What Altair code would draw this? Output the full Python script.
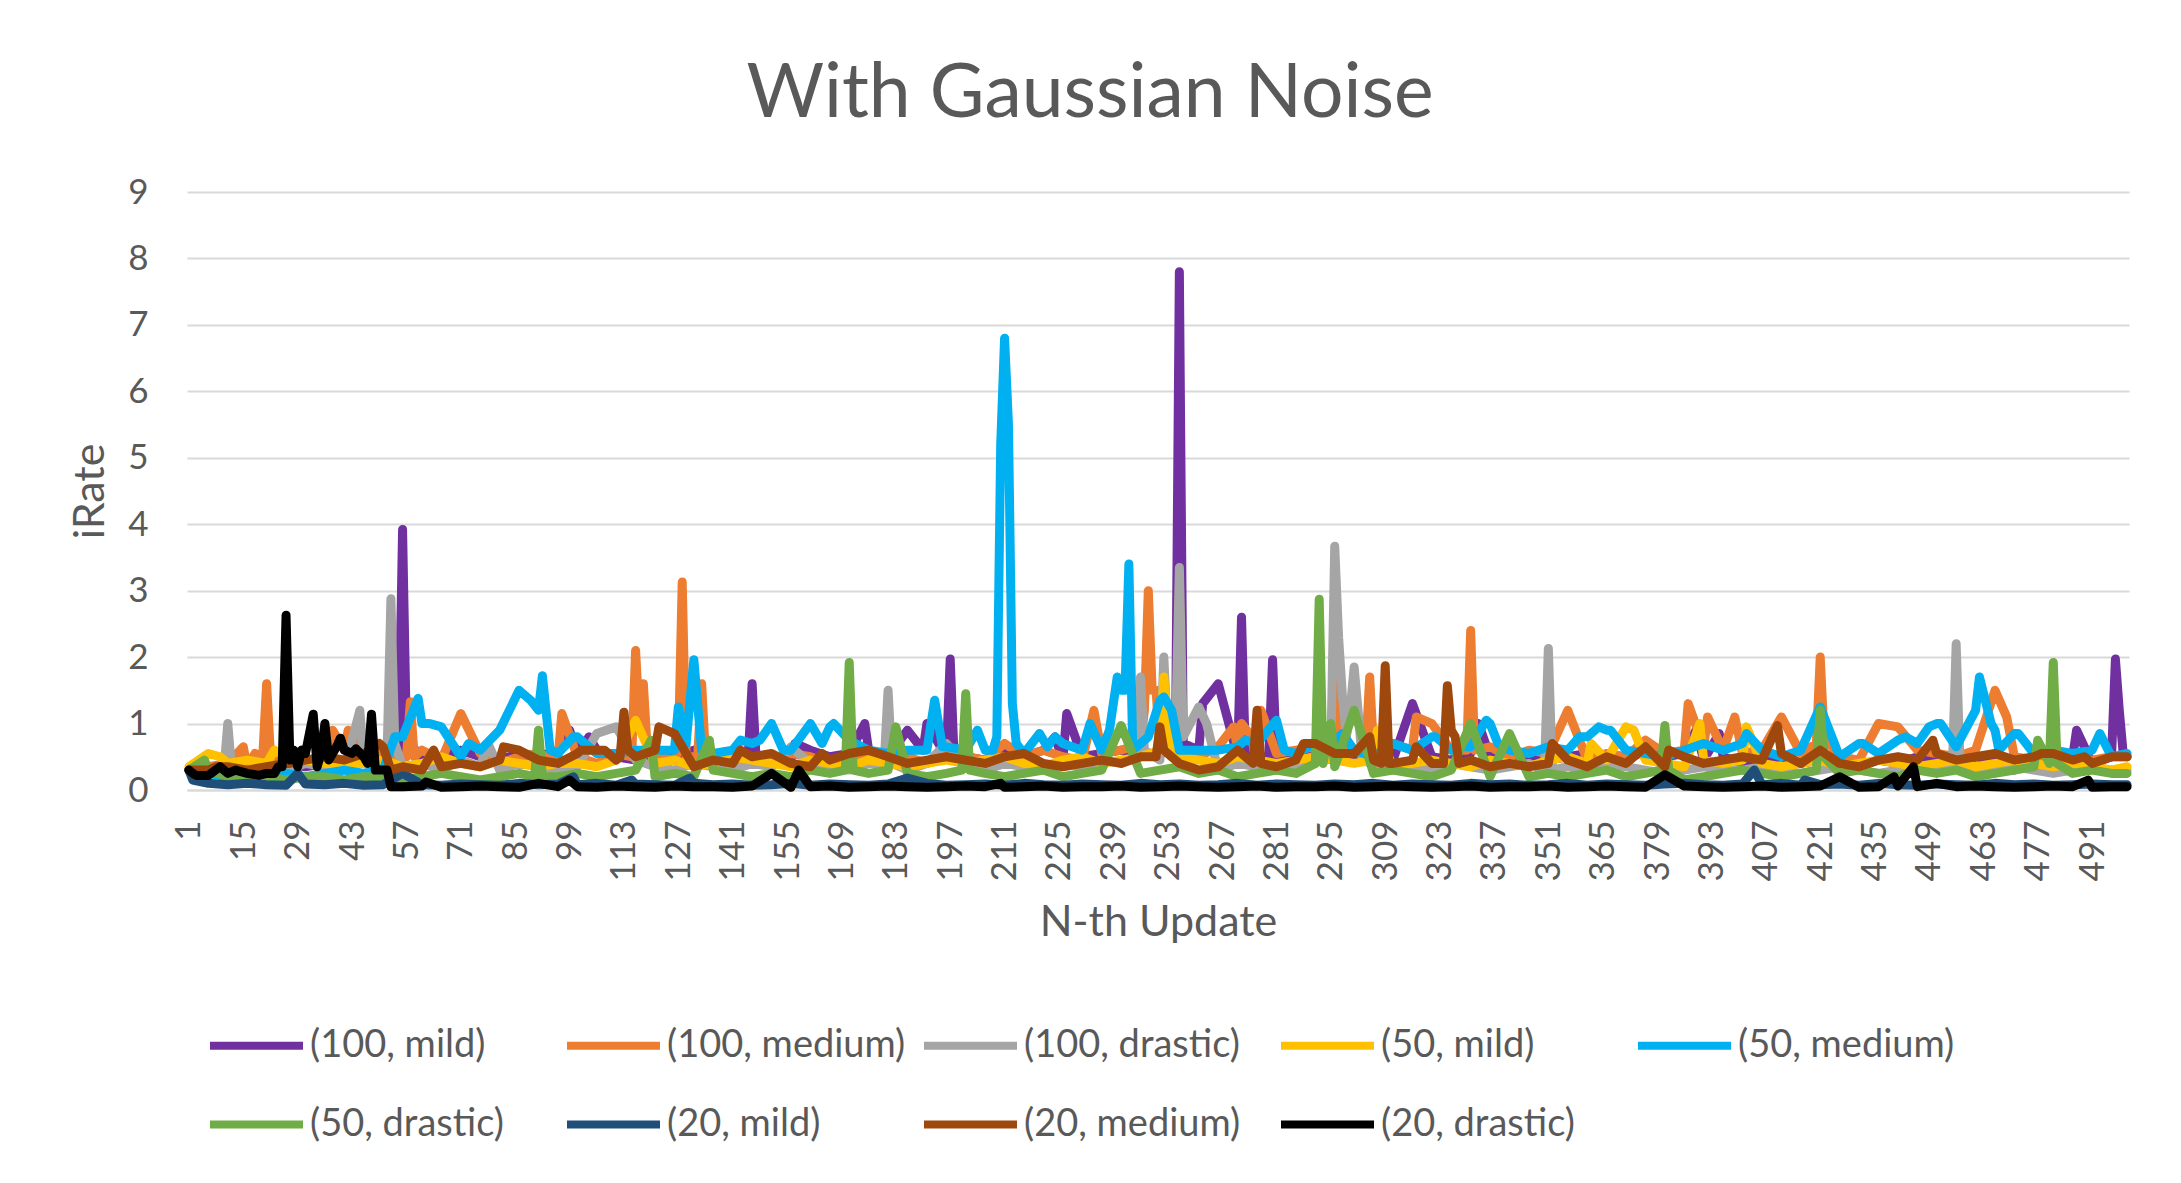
import altair as alt
import pandas as pd

SERIES = ["(100, mild)", "(100, medium)", "(100, drastic)", "(50, mild)", "(50, medium)",
          "(50, drastic)", "(20, mild)", "(20, medium)", "(20, drastic)"]
COLORS = ["#7030A0", "#ED7D31", "#A5A5A5", "#FFC000", "#00B0F0",
          "#70AD47", "#1F4E79", "#9E480E", "#000000"]
X_TICKS = [1, 15, 29, 43, 57, 71, 85, 99, 113, 127, 141, 155, 169, 183, 197, 211, 225, 239,
           253, 267, 281, 295, 309, 323, 337, 351, 365, 379, 393, 407, 421, 435, 449, 463, 477, 491]

# Baseline readings every 5 updates (u = 1, 6, 11, ..., 496) + extra readings {update: value}
PURPLE_BASE = [
    0.3, 0.3, 0.35, 0.3, 0.35, 0.4, 0.35, 0.4, 0.45, 0.4, 0.5, 0.55, 0.45, 0.5, 0.6, 0.5, 0.45, 0.55, 0.5, 0.6,
    0.55, 0.6, 0.5, 0.45, 0.55, 0.5, 0.6, 0.45, 0.5, 0.55, 0.5, 0.45, 0.6, 0.5, 0.55, 0.6, 0.5, 0.55, 0.65, 0.6,
    0.5, 0.45, 0.55, 0.5, 0.6, 0.45, 0.5, 0.55, 0.6, 0.5, 0.55, 0.5, 0.6, 0.45, 0.55, 0.5, 0.4, 0.55, 0.5, 0.45,
    0.5, 0.55, 0.45, 0.6, 0.5, 0.45, 0.55, 0.5, 0.4, 0.5, 0.45, 0.5, 0.55, 0.5, 0.45, 0.6, 0.5, 0.55, 0.45, 0.5,
    0.4, 0.45, 0.5, 0.4, 0.45, 0.5, 0.35, 0.45, 0.4, 0.5, 0.45, 0.35, 0.5, 0.45, 0.3, 0.4, 0.45, 0.5, 0.4, 0.5]
PURPLE_PTS = {55: 0.6, 56: 3.92, 57: 0.8, 99: 0.9, 104: 0.8, 145: 0.5, 146: 1.6, 147: 0.5, 157: 0.7,
              175: 1.0, 186: 0.9, 190: 0.6, 191: 1.0, 196: 0.5, 197: 1.97, 198: 0.5, 224: 0.8, 227: 1.15,
              255: 0.6, 256: 7.8, 257: 0.7, 262: 1.3, 266: 1.6, 271: 0.5, 272: 2.6, 273: 0.5, 279: 0.5,
              280: 1.96, 281: 0.5, 316: 1.3, 333: 1.0, 389: 0.9, 395: 0.85, 487: 0.9, 497: 1.97,
              498: 1.2, 499: 0.55, 500: 0.5}

ORANGE_BASE = [
    0.3, 0.35, 0.4, 0.35, 0.5, 0.45, 0.4, 0.5, 0.6, 0.5, 0.55, 0.5, 0.6, 0.45, 0.5, 0.55, 0.4, 0.5, 0.55, 0.45,
    0.5, 0.4, 0.55, 0.6, 0.5, 0.45, 0.5, 0.55, 0.4, 0.5, 0.45, 0.55, 0.5, 0.4, 0.5, 0.55, 0.45, 0.5, 0.4, 0.55,
    0.5, 0.45, 0.55, 0.5, 0.6, 0.5, 0.45, 0.55, 0.6, 0.7, 0.55, 0.6, 0.5, 0.65, 0.6, 0.7, 0.55, 0.6, 0.65, 0.55,
    0.6, 0.55, 0.7, 0.6, 0.5, 0.6, 0.55, 0.65, 0.5, 0.6, 0.55, 0.5, 0.45, 0.55, 0.5, 0.45, 0.55, 0.6, 0.65, 0.6,
    0.55, 0.6, 0.5, 0.55, 0.6, 0.5, 0.45, 0.55, 0.5, 0.6, 0.55, 0.5, 0.6, 0.55, 0.5, 0.45, 0.55, 0.5, 0.45, 0.5]
ORANGE_PTS = {15: 0.65, 18: 0.55, 20: 0.5, 21: 1.6, 22: 0.5, 38: 0.9, 42: 0.9, 57: 0.5, 58: 1.33, 59: 0.5,
              71: 1.15, 97: 1.15, 115: 0.5, 116: 2.1, 117: 1.0, 118: 1.6, 119: 0.6, 127: 0.6, 128: 3.13,
              129: 0.5, 132: 0.5, 133: 1.6, 134: 0.5, 211: 0.7, 234: 1.2, 247: 1.2, 248: 3.0, 249: 1.5,
              250: 1.5, 251: 0.6, 270: 0.95, 272: 1.0, 277: 1.2, 295: 0.6, 296: 1.7, 297: 0.6, 304: 0.6,
              305: 1.7, 306: 0.6, 317: 1.1, 321: 1.0, 330: 0.6, 331: 2.4, 332: 0.6, 356: 1.2, 376: 0.75,
              387: 1.3, 392: 1.1, 399: 1.1, 411: 1.1, 420: 0.7, 421: 2.0, 422: 0.8, 436: 1.0, 441: 0.95,
              466: 1.5, 469: 1.1, 500: 0.5}

GREY_BASE = [
    0.3, 0.3, 0.35, 0.3, 0.35, 0.3, 0.4, 0.35, 0.3, 0.4, 0.3, 0.35, 0.4, 0.3, 0.45, 0.35, 0.3, 0.4, 0.35, 0.3,
    0.35, 0.4, 0.3, 0.45, 0.35, 0.3, 0.4, 0.35, 0.3, 0.4, 0.35, 0.3, 0.4, 0.35, 0.3, 0.4, 0.35, 0.3, 0.4, 0.45,
    0.35, 0.3, 0.4, 0.35, 0.3, 0.4, 0.35, 0.45, 0.4, 0.5, 0.45, 0.4, 0.35, 0.3, 0.4, 0.35, 0.3, 0.35, 0.4, 0.45,
    0.4, 0.35, 0.3, 0.35, 0.3, 0.4, 0.35, 0.3, 0.35, 0.4, 0.3, 0.35, 0.3, 0.4, 0.35, 0.3, 0.25, 0.3, 0.35, 0.3,
    0.3, 0.35, 0.3, 0.25, 0.3, 0.35, 0.3, 0.25, 0.3, 0.35, 0.3, 0.35, 0.25, 0.3, 0.35, 0.3, 0.25, 0.3, 0.35, 0.3]
GREY_PTS = {10: 0.3, 11: 1.0, 12: 0.3, 45: 1.2, 52: 0.5, 53: 2.88, 54: 0.7, 78: 0.7, 106: 0.85, 111: 0.95,
            156: 0.65, 180: 0.4, 181: 1.5, 182: 0.4, 196: 0.7, 245: 0.5, 246: 1.7, 247: 0.6, 252: 2.0,
            253: 0.8, 255: 0.8, 256: 3.35, 257: 0.8, 261: 1.25, 263: 1.0, 295: 0.6, 296: 3.67, 297: 2.3,
            298: 1.4, 299: 0.8, 300: 1.2, 301: 1.85, 302: 1.2, 303: 0.5, 350: 0.3, 351: 2.13, 352: 0.3,
            455: 0.3, 456: 2.2, 457: 0.4, 500: 0.3}

GOLD_BASE = [
    0.35, 0.5, 0.4, 0.45, 0.4, 0.5, 0.45, 0.4, 0.35, 0.4, 0.45, 0.35, 0.4, 0.5, 0.4, 0.35, 0.45, 0.4, 0.35, 0.4,
    0.4, 0.35, 0.45, 0.5, 0.4, 0.45, 0.35, 0.4, 0.5, 0.45, 0.4, 0.35, 0.45, 0.4, 0.35, 0.45, 0.4, 0.35, 0.4, 0.45,
    0.4, 0.45, 0.5, 0.4, 0.35, 0.45, 0.5, 0.4, 0.45, 0.5, 0.55, 0.5, 0.45, 0.4, 0.5, 0.45, 0.4, 0.45, 0.5, 0.45,
    0.4, 0.45, 0.35, 0.4, 0.45, 0.4, 0.35, 0.45, 0.4, 0.35, 0.45, 0.5, 0.4, 0.45, 0.5, 0.45, 0.4, 0.35, 0.45, 0.4,
    0.45, 0.4, 0.35, 0.4, 0.45, 0.35, 0.4, 0.45, 0.4, 0.35, 0.4, 0.45, 0.35, 0.4, 0.45, 0.4, 0.35, 0.4, 0.35, 0.3]
GOLD_PTS = {6: 0.55, 9: 0.5, 23: 0.6, 116: 1.05, 251: 0.6, 252: 1.7, 253: 1.0, 254: 0.5, 307: 0.9,
            362: 0.7, 371: 0.95, 373: 0.9, 390: 1.0, 402: 0.95, 500: 0.35}

BLUE_BASE = [
    0.3, 0.25, 0.2, 0.25, 0.3, 0.25, 0.2, 0.25, 0.3, 0.25, 0.3, 0.8, 1.0, 0.95, 0.5, 0.6, 0.9, 0.9, 1.2, 0.55,
    0.8, 0.55, 0.55, 0.6, 0.6, 0.6, 1.96, 0.55, 0.6, 0.7, 1.0, 0.6, 1.0, 0.95, 0.75, 0.6, 0.55, 0.6, 0.6, 0.65,
    0.6, 0.6, 6.8, 0.55, 0.75, 0.7, 0.6, 0.6, 1.5, 0.7, 1.35, 0.6, 0.6, 0.6, 0.65, 0.7, 1.05, 0.55, 0.7, 0.75,
    0.6, 0.5, 0.7, 0.6, 0.8, 0.6, 0.65, 1.0, 0.6, 0.55, 0.65, 0.6, 0.8, 0.9, 0.6, 0.55, 0.5, 0.6, 0.7, 0.6,
    0.7, 0.6, 0.5, 0.6, 1.25, 0.5, 0.7, 0.55, 0.75, 0.7, 1.0, 0.65, 1.2, 0.9, 0.85, 0.55, 0.6, 0.55, 0.6, 0.5]
BLUE_PTS = {54: 0.8, 60: 1.38, 63: 1.0, 73: 0.7, 86: 1.5, 89: 1.35, 92: 1.72, 94: 0.6, 100: 0.8, 127: 1.25,
            129: 0.7, 133: 0.6, 143: 0.75, 148: 0.75, 154: 0.6, 164: 0.7, 167: 1.0, 193: 1.35, 195: 0.65,
            204: 0.9, 208: 0.6, 209: 0.8, 210: 5.2, 212: 5.5, 213: 1.3, 214: 0.7, 220: 0.85, 222: 0.65,
            224: 0.8, 233: 1.0, 238: 0.9, 240: 1.7, 242: 1.5, 243: 3.4, 244: 0.6, 248: 0.8, 252: 1.4,
            254: 1.2, 273: 0.75, 283: 0.6, 298: 0.85, 322: 0.8, 329: 0.65, 335: 1.05, 338: 0.7, 359: 0.8,
            364: 0.95, 367: 0.9, 402: 0.85, 432: 0.7, 443: 0.8, 449: 0.95, 452: 1.0, 462: 1.7, 465: 1.0,
            467: 0.6, 472: 0.85, 493: 0.85, 500: 0.55}

GREEN_BASE = [
    0.3, 0.3, 0.2, 0.15, 0.2, 0.15, 0.2, 0.2, 0.15, 0.2, 0.2, 0.15, 0.2, 0.25, 0.2, 0.15, 0.2, 0.25, 0.2, 0.2,
    0.25, 0.2, 0.25, 0.3, 0.2, 0.25, 0.2, 0.3, 0.25, 0.2, 0.25, 0.2, 0.3, 0.25, 0.2, 0.25, 0.3, 0.25, 0.2, 0.25,
    0.3, 0.25, 0.2, 0.25, 0.3, 0.2, 0.25, 0.3, 0.2, 0.25, 0.3, 0.35, 0.25, 0.3, 0.2, 0.25, 0.3, 0.25, 0.3, 0.35,
    0.3, 0.25, 0.3, 0.25, 0.2, 0.3, 0.25, 0.2, 0.25, 0.2, 0.25, 0.2, 0.25, 0.3, 0.2, 0.25, 0.2, 0.15, 0.2, 0.25,
    0.3, 0.25, 0.2, 0.25, 0.3, 0.25, 0.3, 0.25, 0.2, 0.3, 0.25, 0.3, 0.2, 0.25, 0.3, 0.35, 0.3, 0.25, 0.3, 0.25]
GREEN_PTS = {5: 0.45, 90: 0.2, 91: 0.9, 92: 0.2, 120: 0.75, 135: 0.75, 170: 0.3, 171: 1.92, 172: 0.3,
             183: 0.95, 200: 0.3, 201: 1.45, 202: 0.3, 241: 0.97, 291: 0.4, 292: 2.87, 293: 0.4, 295: 1.0,
             301: 1.2, 331: 1.0, 341: 0.85, 380: 0.3, 381: 0.97, 382: 0.3, 420: 0.3, 421: 1.2, 422: 0.5,
             477: 0.75, 480: 0.4, 481: 1.92, 482: 0.4, 500: 0.25}

NAVY_BASE = [
    0.3, 0.1, 0.08, 0.1, 0.08, 0.07, 0.09, 0.08, 0.1, 0.07, 0.08, 0.1, 0.08, 0.07, 0.09, 0.08, 0.07, 0.1, 0.08, 0.09,
    0.08, 0.1, 0.07, 0.09, 0.08, 0.07, 0.1, 0.08, 0.09, 0.07, 0.08, 0.1, 0.07, 0.09, 0.08, 0.07, 0.09, 0.08, 0.1, 0.07,
    0.08, 0.09, 0.07, 0.1, 0.08, 0.07, 0.09, 0.08, 0.07, 0.1, 0.08, 0.09, 0.07, 0.08, 0.1, 0.07, 0.09, 0.08, 0.07, 0.09,
    0.08, 0.1, 0.07, 0.09, 0.08, 0.07, 0.1, 0.08, 0.09, 0.07, 0.08, 0.1, 0.07, 0.09, 0.08, 0.07, 0.09, 0.1, 0.08, 0.07,
    0.09, 0.08, 0.1, 0.07, 0.08, 0.09, 0.07, 0.1, 0.08, 0.07, 0.09, 0.08, 0.07, 0.1, 0.08, 0.09, 0.07, 0.08, 0.09, 0.08]
NAVY_PTS = {2: 0.15, 29: 0.25, 56: 0.25, 100: 0.2, 115: 0.15, 130: 0.18, 186: 0.18, 404: 0.3, 417: 0.15,
            500: 0.08}

BROWN_BASE = [
    0.3, 0.3, 0.35, 0.3, 0.35, 0.4, 0.45, 0.5, 0.45, 0.55, 0.65, 0.35, 0.3, 0.35, 0.4, 0.35, 0.45, 0.6, 0.45, 0.4,
    0.55, 0.6, 0.45, 0.5, 0.6, 0.4, 0.35, 0.45, 0.4, 0.5, 0.55, 0.4, 0.35, 0.45, 0.55, 0.45, 0.5, 0.4, 0.45, 0.5,
    0.45, 0.4, 0.5, 0.45, 0.4, 0.35, 0.4, 0.45, 0.4, 0.5, 0.45, 0.4, 0.3, 0.35, 0.6, 0.4, 0.35, 0.45, 0.5, 0.55,
    0.55, 0.45, 0.4, 0.45, 0.4, 0.5, 0.45, 0.35, 0.4, 0.35, 0.4, 0.45, 0.35, 0.5, 0.4, 0.45, 0.35, 0.5, 0.4, 0.45,
    0.5, 0.45, 0.55, 0.4, 0.45, 0.4, 0.35, 0.45, 0.5, 0.45, 0.55, 0.45, 0.5, 0.4, 0.45, 0.5, 0.55, 0.45, 0.4, 0.5]
BROWN_PTS = {8: 0.35, 27: 0.4, 48: 0.6, 50: 0.7, 53: 0.3, 64: 0.6, 82: 0.65, 102: 0.6, 108: 0.6, 112: 0.5,
             113: 1.17, 114: 0.6, 122: 0.95, 126: 0.85, 143: 0.6, 164: 0.55, 176: 0.6, 216: 0.55, 250: 0.5,
             251: 0.95, 252: 0.6, 275: 0.4, 276: 1.2, 277: 0.4, 288: 0.7, 291: 0.7, 305: 0.8, 308: 0.4,
             309: 1.87, 310: 0.4, 317: 0.65, 324: 0.4, 325: 1.57, 326: 0.9, 327: 0.8, 328: 0.4, 352: 0.7,
             376: 0.65, 382: 0.6, 410: 0.97, 421: 0.6, 450: 0.75, 466: 0.55, 478: 0.55, 489: 0.5, 500: 0.5}

BLACK_BASE = [
    0.3, 0.22, 0.25, 0.25, 0.25, 2.63, 0.55, 1.0, 0.6, 0.5, 0.3, 0.05, 0.06, 0.04, 0.05, 0.06, 0.05, 0.04, 0.06, 0.05,
    0.05, 0.04, 0.06, 0.05, 0.04, 0.06, 0.05, 0.05, 0.04, 0.06, 0.05, 0.04, 0.05, 0.06, 0.04, 0.05, 0.06, 0.05, 0.04, 0.05,
    0.06, 0.05, 0.04, 0.05, 0.06, 0.04, 0.05, 0.05, 0.06, 0.04, 0.05, 0.06, 0.05, 0.04, 0.05, 0.06, 0.04, 0.05, 0.05, 0.06,
    0.04, 0.05, 0.06, 0.05, 0.04, 0.05, 0.06, 0.04, 0.05, 0.05, 0.06, 0.04, 0.05, 0.06, 0.05, 0.04, 0.05, 0.06, 0.05, 0.04,
    0.05, 0.06, 0.04, 0.05, 0.06, 0.05, 0.04, 0.05, 0.06, 0.05, 0.04, 0.05, 0.06, 0.05, 0.04, 0.05, 0.06, 0.05, 0.04, 0.05]
BLACK_PTS = {2: 0.25, 3: 0.22, 9: 0.35, 13: 0.3, 19: 0.22, 23: 0.25, 24: 0.35, 25: 0.35, 27: 0.45, 28: 0.6,
             29: 0.35, 30: 0.6, 33: 1.14, 34: 0.35, 35: 0.55, 37: 0.45, 38: 0.55, 39: 0.65, 40: 0.78,
             43: 0.55, 44: 0.62, 47: 0.4, 48: 1.14, 49: 0.3, 52: 0.3, 53: 0.05, 62: 0.12, 91: 0.1,
             99: 0.15, 151: 0.25, 158: 0.3, 210: 0.1, 381: 0.23, 426: 0.2, 440: 0.2, 445: 0.35, 451: 0.1,
             490: 0.15, 500: 0.05}

BASES = [PURPLE_BASE, ORANGE_BASE, GREY_BASE, GOLD_BASE, BLUE_BASE, GREEN_BASE, NAVY_BASE, BROWN_BASE, BLACK_BASE]
EXTRAS = [PURPLE_PTS, ORANGE_PTS, GREY_PTS, GOLD_PTS, BLUE_PTS, GREEN_PTS, NAVY_PTS, BROWN_PTS, BLACK_PTS]

rows = []
for name, base, extra in zip(SERIES, BASES, EXTRAS):
    pts = {1 + 5 * i: v for i, v in enumerate(base)}
    pts.update(extra)
    for u in sorted(pts):
        rows.append({"update": u, "value": pts[u], "series": name})
df = pd.DataFrame(rows)

FONT = "Lato"
GRAY_TXT = "#595959"

x_enc = alt.X("update:Q",
              scale=alt.Scale(domain=[0.5, 500.5], nice=False, zero=False),
              axis=alt.Axis(values=X_TICKS, labelAngle=270, grid=False, ticks=False, tickSize=0,
                            labelPadding=30, labelFontSize=35, labelFont=FONT, labelColor=GRAY_TXT,
                            labelOverlap=False, labelFlush=False, domainColor="#D9D9D9", domainWidth=2,
                            title="N-th Update", titleFont=FONT, titleFontSize=43,
                            titleFontWeight="normal", titleColor=GRAY_TXT, titleY=132,
                            titleBaseline="middle"))
y_enc = alt.Y("value:Q",
              scale=alt.Scale(domain=[0, 9], nice=False),
              axis=alt.Axis(values=[0, 1, 2, 3, 4, 5, 6, 7, 8, 9], grid=True, gridColor="#D9D9D9",
                            gridWidth=2, domain=False, ticks=False, tickSize=0, labelPadding=39,
                            labelFontSize=35, labelFont=FONT, labelColor=GRAY_TXT,
                            title="iRate", titleFont=FONT, titleFontSize=43, titleFontWeight="normal",
                            titleColor=GRAY_TXT, titleX=-97, titleY=299, titleBaseline="middle"))
c_enc = alt.Color("series:N",
                  scale=alt.Scale(domain=SERIES, range=COLORS),
                  legend=alt.Legend(orient="none", legendX=19, legendY=803, direction="horizontal",
                                    columns=5, title=None, symbolType="stroke", symbolSize=8649,
                                    symbolStrokeWidth=8, labelFont=FONT, labelFontSize=38,
                                    labelColor=GRAY_TXT, labelLimit=500, labelOffset=3,
                                    columnPadding=2, rowPadding=9, gridAlign="all", padding=0))

layers = []
for name in SERIES:
    layers.append(
        alt.Chart(df).transform_filter(alt.datum.series == name)
        .mark_line(strokeWidth=9, strokeJoin="round", strokeCap="round")
        .encode(x=x_enc, y=y_enc, color=c_enc)
    )

chart = alt.layer(*layers).properties(
    width=1942, height=598,
    autosize=alt.AutoSizeParams(type="none"),
    padding={"left": 179, "top": 184, "right": 44, "bottom": 370},
    title=alt.TitleParams("With Gaussian Noise", font=FONT, fontSize=75, fontWeight="normal",
                          color=GRAY_TXT, anchor="middle", dx=-68, offset=42),
).configure_view(strokeWidth=0)

chart.save("out.html", embed_options={"renderer": "svg", "actions": False})
